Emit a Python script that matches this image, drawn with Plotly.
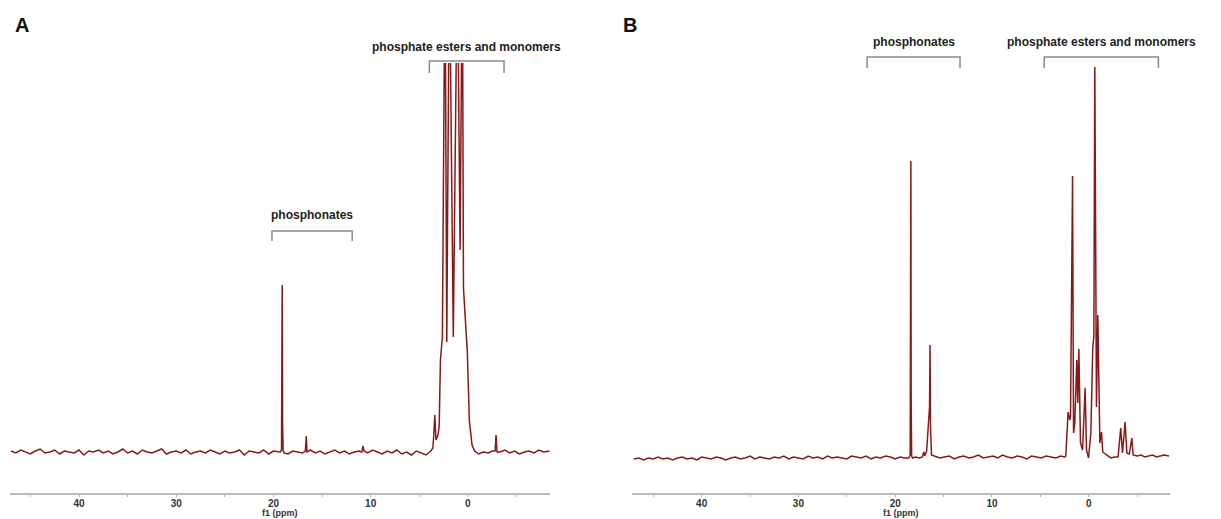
import plotly.graph_objects as go

# 31P NMR spectra, intensity in arbitrary units (baseline = 0)

# ---- panel A -------------------------------------------------------------
a_noise_ppm = [
    47.0, 46.5, 46.0, 45.5, 45.0, 44.5, 44.0, 43.5, 43.0, 42.5,
    42.0, 41.5, 41.0, 40.5, 40.0, 39.5, 39.0, 38.5, 38.0, 37.5,
    37.0, 36.5, 36.0, 35.5, 35.0, 34.5, 34.0, 33.5, 33.0, 32.5,
    32.0, 31.5, 31.0, 30.5, 30.0, 29.5, 29.0, 28.5, 28.0, 27.5,
    27.0, 26.5, 26.0, 25.5, 25.0, 24.5, 24.0, 23.5, 23.0, 22.5,
    22.0, 21.5, 21.0, 20.5, 20.0, 19.5,
    18.5, 18.0, 17.5, 17.0, 16.2, 15.7, 15.2, 14.7, 14.2, 13.7,
    13.2, 12.7, 12.2, 11.7, 11.2, 10.3, 9.8, 9.3, 8.8, 8.3,
    7.8, 7.3, 6.8, 6.3, 5.8, 5.3, 4.8, 4.3,
    -1.1, -1.6, -2.1, -2.5, -3.3, -3.8, -4.3, -4.8, -5.3, -5.8,
    -6.3, -6.8, -7.3, -7.8, -8.4,
]
a_noise_int = [
    1, -1, 2, 0, -2, 1, 3, -1, 0, 2,
    -2, 1, 0, -1, 2, -3, 1, 0, 2, -1,
    1, -2, 0, 3, -1, 1, -2, 2, 0, -1,
    1, 3, -2, 0, 1, -1, 2, -2, 0, 1,
    -1, 2, 0, -2, 1, -1, 0, 2, -3, 1,
    0, -1, 2, -2, 1, 0,
    -2, 1, 0, -1, 2, -1, 1, -2, 0, 2,
    -1, 1, -2, 0, 1, -1, 2, 0, -2, 1,
    -1, 2, -2, 0, -3, 1, -1, -3,
    -2, 0, -1, 1, 0, 2, -1, 1, -2, 0,
    1, -1, 2, 0, 1,
]
a_peak_ppm = [
    19.3, 19.17, 19.13, 19.1, 19.06, 19.0, 18.9,
    16.72, 16.62, 16.55,
    10.9, 10.8, 10.67,
    3.8, 3.6, 3.52, 3.4, 3.28, 3.1, 2.95, 2.82, 2.62, 2.35, 2.17,
    1.9, 1.5, 1.08, 0.8, 0.57, 0.45, 0.3, 0.05, -0.15, -0.43, -0.7,
    -2.8, -2.9, -3.0,
]
a_peak_int = [
    0, 2, 70, 167, 30, 1, -1,
    1, 16, 0,
    0, 6, 1,
    1, 4, 15, 37, 12, 16, 25, 92, 115, 500, 110,
    500, 115, 500, 202, 500, 164, 140, 99, 32, 7, 1,
    1, 17, 0,
]

# ---- panel B -------------------------------------------------------------
b_noise_ppm = [
    47.0, 46.5, 46.0, 45.5, 45.0, 44.5, 44.0, 43.5, 43.0, 42.5,
    42.0, 41.5, 41.0, 40.5, 40.0, 39.5, 39.0, 38.5, 38.0, 37.5,
    37.0, 36.5, 36.0, 35.5, 35.0, 34.5, 34.0, 33.5, 33.0, 32.5,
    32.0, 31.5, 31.0, 30.5, 30.0, 29.5, 29.0, 28.5, 28.0, 27.5,
    27.0, 26.5, 26.0, 25.5, 25.0, 24.5, 24.0, 23.5, 23.0, 22.5,
    22.0, 21.5, 21.0, 20.5, 20.0, 19.5, 19.0,
    17.9, 17.5,
    15.9, 15.4, 14.9, 14.4, 13.9, 13.4, 12.9, 12.4, 11.9, 11.4,
    10.9, 10.4, 9.9, 9.4, 8.9, 8.4, 7.9, 7.4, 6.9, 6.4,
    5.9, 5.4, 4.9, 4.4, 3.9, 3.4, 2.9,
    -2.3, -2.65,
    -5.0, -5.4, -5.8, -6.2, -6.6, -7.0, -7.4, -7.8, -8.3,
]
b_noise_int = [
    -2, -1, -3, -1, -2, 0, -2, -1, -3, -1,
    0, -2, -1, -3, 0, -1, -2, 0, -1, -3,
    -1, 0, -2, -1, 1, -2, 0, -1, -2, 0,
    -1, 1, -2, 0, -1, -2, 1, -1, 0, -2,
    1, -1, 0, -1, -2, 1, 0, -1, 1, -2,
    0, -1, 1, 0, -2, 0, -1,
    0, -1,
    1, -1, 0, 1, -2, 0, 1, -1, 0, 2,
    -1, 0, 1, -1, 2, 0, -1, 1, 0, -2,
    1, 0, -1, 1, 0, -1, 1,
    -1, 0,
    1, 2, 0, 1, 2, 0, 1, 2, 1,
]
b_peak_ppm = [
    18.6, 18.45, 18.41, 18.38, 18.35, 18.3, 18.2,
    17.2, 17.05, 16.95, 16.75, 16.65, 16.45, 16.4, 16.35, 16.25,
    2.5, 2.37, 2.13, 1.95, 1.88, 1.67, 1.57, 1.44, 1.23, 1.13,
    1.02, 0.85, 0.64, 0.37, 0.23, 0.02, -0.22, -0.42, -0.53, -0.63,
    -0.73, -0.8, -0.94, -1.04, -1.15, -1.32, -1.45, -1.83,
    -3.03, -3.31, -3.49, -3.76, -3.94, -4.2, -4.45, -4.59,
]
b_peak_int = [
    -1, 2, 100, 296, 60, 1, -1,
    0, 5, 1, 6, 20, 50, 112, 30, 2,
    0, 1, 45, 37, 41, 281, 24, 34, 97, 54,
    108, 14, 7, 69, 7, -1, 24, 110, 120, 390,
    117, 50, 142, 47, 14, 25, 5, 2,
    0, 29, 4, 35, 4, 3, 19, 2,
]

brackets = [
    # (axis, label, ppm_left, ppm_right, text_y_px, bar_y_px, foot_y_px)
    ("x", "phosphonates", 20.15, 11.9, 215, 231, 241),
    ("x", "phosphate esters and monomers", 3.96, -3.72, 47, 61, 73),
    ("x2", "phosphonates", 22.9, 13.3, 42, 57, 68),
    ("x2", "phosphate esters and monomers", 4.6, -7.2, 42, 57, 68),
]

# the page body has an 8 px margin; positions below are window pixels
OFF = 8
W, H = 1221 - OFF, 519 - OFF
SPEC = "#861a1a"
SANS = "Liberation Sans, Arial"


def fx(px):
    return (px - OFF) / W


def fy(px):
    return 1 - (px - OFF) / H


def merged(p1, i1, p2, i2):
    pts = sorted(zip(p1 + p2, i1 + i2), key=lambda t: -t[0])
    return [p for p, _ in pts], [v for _, v in pts]


a_x, a_y = merged(a_noise_ppm, a_noise_int, a_peak_ppm, a_peak_int)
b_x, b_y = merged(b_noise_ppm, b_noise_int, b_peak_ppm, b_peak_int)

fig = go.Figure()
fig.add_trace(go.Scatter(x=a_x, y=a_y, mode="lines", xaxis="x", yaxis="y",
                         line=dict(color=SPEC, width=1.5), showlegend=False))
fig.add_trace(go.Scatter(x=b_x, y=b_y, mode="lines", xaxis="x2", yaxis="y2",
                         line=dict(color=SPEC, width=1.5), showlegend=False))

ydom = [fy(493), fy(63)]
xcommon = dict(
    showline=True, linecolor="#bdbdbd", linewidth=2,
    showgrid=False, zeroline=False,
    tick0=0, dtick=10, ticks="outside", ticklen=2, tickcolor="#b0b0b0",
    minor=dict(tick0=0, dtick=5, ticks="outside", ticklen=2, tickcolor="#b0b0b0"),
    tickfont=dict(family=SANS, size=10, color="#333333", weight="bold"),
    ticklabelstandoff=-2,
)
fig.update_layout(
    width=W, height=H,
    margin=dict(l=0, r=0, t=0, b=0),
    paper_bgcolor="white", plot_bgcolor="white",
    xaxis=dict(domain=[fx(10), fx(550)], range=[47.1, -8.45], anchor="y", **xcommon),
    xaxis2=dict(domain=[fx(632), fx(1170)], range=[47.2, -8.4], anchor="y2", **xcommon),
    yaxis=dict(domain=ydom, range=[-41, 389], visible=False, anchor="x"),
    yaxis2=dict(domain=ydom, range=[-36, 394], visible=False, anchor="x2"),
)

for xref, text, left, right, ty, by, ft in brackets:
    fig.add_shape(type="path", xref=xref, yref="paper",
                  path=f"M {left},{fy(ft)} L {left},{fy(by)} L {right},{fy(by)} L {right},{fy(ft)}",
                  line=dict(color="#8a8a8a", width=1.5))
    fig.add_annotation(x=(left + right) / 2, y=fy(ty), xref=xref, yref="paper",
                       xanchor="center", yanchor="middle",
                       text=text, showarrow=False,
                       font=dict(family=SANS, size=12, color="#222222", weight="bold"))

# axis titles
for xref, mid in (("x", 19.3), ("x2", 19.4)):
    fig.add_annotation(x=mid, y=fy(513), xref=xref, yref="paper",
                       xanchor="center", yanchor="middle",
                       text="f1 (ppm)", showarrow=False,
                       font=dict(family=SANS, size=9, color="#333333", weight="bold"))

for label, xpx in (("A", 22), ("B", 630)):
    fig.add_annotation(x=fx(xpx), y=fy(25), xref="paper", yref="paper",
                       xanchor="center", yanchor="middle",
                       text=label, showarrow=False,
                       font=dict(family=SANS, size=20, color="#111111", weight="bold"))

fig.write_html("out.html")
